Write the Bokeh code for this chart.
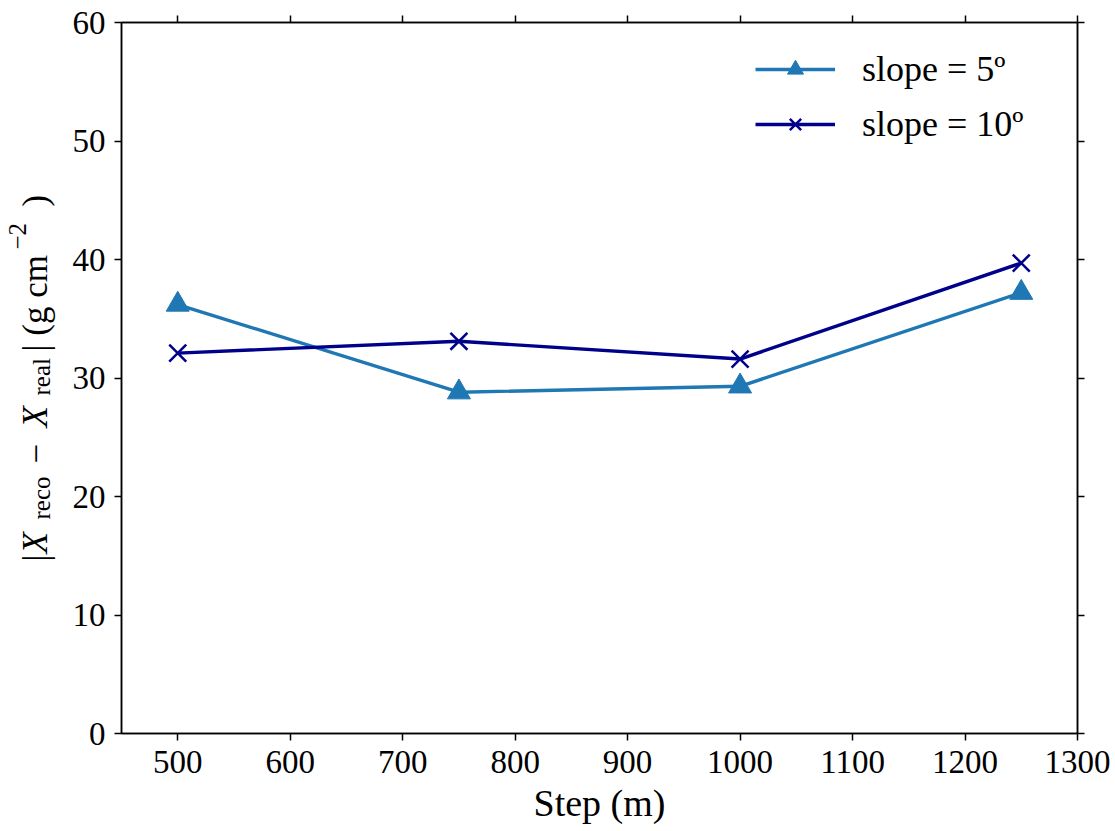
import math
from bokeh.plotting import figure
from bokeh.layouts import row
from bokeh.models import (LinearAxis, FixedTicker, Legend, LegendItem, Label, Range1d)
from bokeh.embed import file_html
from bokeh.resources import INLINE

# ---- data ----
steps = [500, 750, 1000, 1250]
slope5 = [36.2, 28.8, 29.3, 37.2]
slope10 = [32.1, 33.1, 31.6, 39.7]
x_ticks = [500, 600, 700, 800, 900, 1000, 1100, 1200, 1300]
y_ticks = [0, 10, 20, 30, 40, 50, 60]
labels = ["slope = 5º", "slope = 10º"]
x_title = "Step (m)"

FONT = "Liberation Serif"
W, H = 1115, 831
LW = 66                      # width of the y-title strip
FL, FR, FT, FB = 121, 1077, 22, 733

# ---- y axis title strip (pieces for sub/superscripts) ----
t = figure(width=LW, height=H, output_backend="svg", toolbar_location=None,
           x_range=Range1d(0, LW), y_range=Range1d(FB, FT),
           min_border=0, min_border_left=0, min_border_right=0,
           min_border_top=FT, min_border_bottom=H - FB)
t.axis.visible = False
t.grid.visible = False
t.outline_line_color = None
t.background_fill_color = "white"
t.border_fill_color = "white"

DX = -12
MAIN, SUB = "35px", "25px"
pieces = [
    # text, start y, baseline x, size, style
    ("|", 561, 47, MAIN, "normal"),
    ("X", 553, 47, MAIN, "italic"),
    ("reco", 519, 53, SUB, "normal"),
    ("−", 463, 47, MAIN, "normal"),
    ("X", 427, 47, MAIN, "italic"),
    ("real", 395, 53, SUB, "normal"),
    ("| (g cm", 351, 47, MAIN, "normal"),
    ("−2", 249, 29, SUB, "normal"),
    (")", 206, 47, MAIN, "normal"),
]
for txt, iy, ix, sz, st in pieces:
    t.add_layout(Label(x=ix + DX, y=iy, text=txt, angle=math.pi / 2, text_font=FONT,
                       text_font_size=sz, text_font_style=st,
                       text_color="black", text_align="left",
                       text_baseline="alphabetic"))

# ---- main plot ----
p = figure(width=W - LW, height=H, output_backend="svg", toolbar_location=None,
           x_range=Range1d(450, 1300), y_range=Range1d(0, 60),
           min_border_left=FL - LW, min_border_right=W - FR,
           min_border_top=FT, min_border_bottom=H - FB,
           x_axis_label=x_title)
p.background_fill_color = "white"
p.border_fill_color = "white"
p.grid.visible = False
p.outline_line_color = "black"
p.outline_line_width = 1.5

for ax in (p.xaxis[0], p.yaxis[0]):
    ax.axis_line_width = 1.5
    ax.major_tick_line_width = 1.5
    ax.major_tick_out = 7
    ax.major_tick_in = 0
    ax.minor_tick_line_color = None
    ax.major_label_text_font = FONT
    ax.major_label_text_font_size = "33px"
    ax.major_label_text_color = "black"
    ax.axis_label_text_font = FONT
    ax.axis_label_text_font_size = "38px"
    ax.axis_label_text_font_style = "normal"
    ax.axis_label_text_color = "black"
p.xaxis[0].ticker = FixedTicker(ticks=x_ticks)
p.yaxis[0].ticker = FixedTicker(ticks=y_ticks)
p.xaxis[0].major_label_standoff = 10
p.yaxis[0].major_label_standoff = 9
p.xaxis[0].axis_label_standoff = 6

top = LinearAxis(ticker=FixedTicker(ticks=x_ticks))
right = LinearAxis(ticker=FixedTicker(ticks=y_ticks))
for ax in (top, right):
    ax.axis_line_width = 1.5
    ax.major_tick_line_width = 1.5
    ax.major_tick_out = 7
    ax.major_tick_in = 0
    ax.minor_tick_line_color = None
    ax.major_label_text_font_size = "1px"
    ax.major_label_text_color = None
    ax.major_label_standoff = 0
p.add_layout(top, "above")
p.add_layout(right, "right")

c5 = "#1f77b4"
c10 = "#00008b"
l5 = p.line(steps, slope5, line_color=c5, line_width=3.4)
m5 = p.scatter(steps, slope5, marker="triangle", size=23, fill_color=c5, line_color=c5)
l10 = p.line(steps, slope10, line_color=c10, line_width=3.4)
m10 = p.scatter(steps, slope10, marker="x", size=24, line_color=c10, line_width=2.5)

legend = Legend(items=[LegendItem(label=labels[0], renderers=[l5, m5]),
                       LegendItem(label=labels[1], renderers=[l10, m10])],
                location=(755 - FL, FB - 145),
                glyph_width=80, glyph_height=40, label_height=40,
                spacing=13, padding=0, margin=0, label_standoff=27,
                border_line_color=None, background_fill_alpha=0,
                label_text_font=FONT, label_text_font_size="36px",
                label_text_color="black")
p.add_layout(legend, "center")

layout = row(t, p, spacing=0)
open("out.html", "w").write(file_html(layout, INLINE))
